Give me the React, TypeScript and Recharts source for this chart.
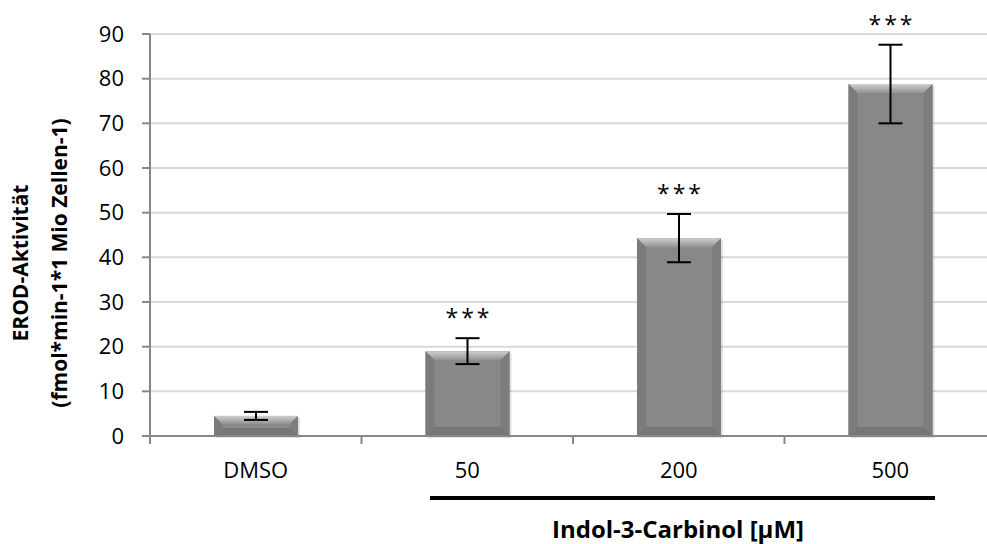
import React from 'react';
import {
  BarChart,
  Bar,
  XAxis,
  YAxis,
  CartesianGrid,
  ErrorBar,
  LabelList,
} from 'recharts';

// Daten
const categories = ['DMSO', '50', '200', '500'];
const meanValues = [4.5, 19.0, 44.3, 78.8];
const errorValues = [0.9, 2.9, 5.4, 8.8];
const significance = ['', '***', '***', '***'];
const yTicks = [0, 10, 20, 30, 40, 50, 60, 70, 80, 90];

const CHART_W = 1000;
const CHART_H = 544;
const X_AXIS_H = 30;
const MARGIN = { top: 34, right: 4, bottom: 108 - X_AXIS_H, left: 0 };
const Y_AXIS_W = 150;
const PLOT_W = CHART_W - MARGIN.left - MARGIN.right - Y_AXIS_W;
const STEP = PLOT_W / categories.length;
const TICK_SIZE = 8;
const TICK_MARGIN = 18;

const AXIS_COLOR = '#878787';
const FONT = '"Open Sans", sans-serif';

const data = categories.map((name, i) => ({
  name,
  value: meanValues[i],
  err: errorValues[i],
  star: significance[i],
}));

// Balken mit Abschrägung (Excel-Bevel)
const BevelBar = (props: any) => {
  const { x, y, width: w, height: h } = props;
  if (!h || h <= 0) return null;
  const b = Math.min(9, h / 2.5);
  return (
    <g>
      <rect x={x + 2} y={y + 2} width={w} height={h} fill="rgba(0,0,0,0.12)" />
      <rect x={x} y={y} width={w} height={h} fill="#888888" />
      <polygon
        points={`${x},${y} ${x + w},${y} ${x + w - b},${y + b} ${x + b},${y + b}`}
        fill="url(#bevelTop)"
      />
      <polygon
        points={`${x},${y} ${x + b},${y + b} ${x + b},${y + h - b} ${x},${y + h}`}
        fill="#7b7b7b"
      />
      <polygon
        points={`${x + w},${y} ${x + w - b},${y + b} ${x + w - b},${y + h - b} ${x + w},${y + h}`}
        fill="#7d7d7d"
      />
      <polygon
        points={`${x},${y + h} ${x + b},${y + h - b} ${x + w - b},${y + h - b} ${x + w},${y + h}`}
        fill="#767676"
      />
    </g>
  );
};

const XTick = (props: any) => {
  const { x, y, payload, index } = props;
  const axisY = y - TICK_SIZE - TICK_MARGIN;
  const left = x - STEP / 2;
  return (
    <g>
      <line x1={left} y1={axisY} x2={left} y2={axisY + TICK_SIZE} stroke={AXIS_COLOR} strokeWidth={2} />
      {index === categories.length - 1 && (
        <line x1={x + STEP / 2} y1={axisY} x2={x + STEP / 2} y2={axisY + TICK_SIZE} stroke={AXIS_COLOR} strokeWidth={2} />
      )}
      <text x={x} y={y} dy="0.71em" textAnchor="middle" fontSize={22} fill="#000" fontFamily={FONT}>
        {payload.value}
      </text>
    </g>
  );
};

const StarLabel = (props: any) => {
  const { x, y, width, height, value, index } = props;
  const star = significance[index];
  if (!star) return null;
  const pxPerUnit = height / value;
  const errTop = y - errorValues[index] * pxPerUnit;
  return (
    <text
      x={x + width / 2 + 1.5}
      y={errTop - 12}
      textAnchor="middle"
      fontSize={23}
      letterSpacing={3}
      fill="#000"
      fontFamily={FONT}
    >
      {star}
    </text>
  );
};

const YLabel = () => (
  <g fontFamily={FONT} fontWeight="bold" fontSize={21} fill="#000">
    <text x={28} y={263} textAnchor="middle" transform="rotate(-90 28 263)">
      EROD-Aktivität
    </text>
    <text x={67} y={263} textAnchor="middle" transform="rotate(-90 67 263)">
      (fmol*min-1*1 Mio Zellen-1)
    </text>
  </g>
);

const XLabel = () => (
  <g>
    <line x1={430} y1={498} x2={935} y2={498} stroke="#000" strokeWidth={4} />
    <text x={678} y={538} textAnchor="middle" fontFamily={FONT} fontWeight="bold" fontSize={24} fill="#000">
      Indol-3-Carbinol [µM]
    </text>
  </g>
);

const App: React.FC = () => {
  return (
    <div
      style={{
        position: 'fixed',
        left: 0,
        top: 0,
        width: 987,
        height: 544,
        overflow: 'hidden',
        background: '#fff',
        fontFamily: FONT,
      }}
    >
      <BarChart width={CHART_W} height={CHART_H} data={data} margin={MARGIN}>
        <defs>
          <linearGradient id="bevelTop" x1="0" y1="0" x2="0" y2="1">
            <stop offset="0%" stopColor="#cfcfcf" />
            <stop offset="100%" stopColor="#939393" />
          </linearGradient>
        </defs>
        <CartesianGrid vertical={false} stroke="#d9d9d9" strokeWidth={2} />
        <XAxis
          dataKey="name"
          height={X_AXIS_H}
          stroke={AXIS_COLOR}
          strokeWidth={2}
          tickLine={false}
          tickSize={TICK_SIZE}
          tickMargin={TICK_MARGIN}
          tick={<XTick />}
          interval={0}
          label={{ content: () => <XLabel /> }}
        />
        <YAxis
          width={Y_AXIS_W}
          domain={[0, 90]}
          ticks={yTicks}
          interval={0}
          stroke={AXIS_COLOR}
          strokeWidth={2}
          tickSize={TICK_SIZE}
          tickMargin={TICK_MARGIN}
          tick={{ fill: '#000', fontSize: 22, fontFamily: FONT }}
          label={{ content: () => <YLabel /> }}
        />
        <Bar dataKey="value" barSize={84} shape={<BevelBar />} isAnimationActive={false}>
          <ErrorBar dataKey="err" width={12} stroke="#000" strokeWidth={2} />
          <LabelList dataKey="value" content={<StarLabel />} />
        </Bar>
      </BarChart>
    </div>
  );
};

export default App;
